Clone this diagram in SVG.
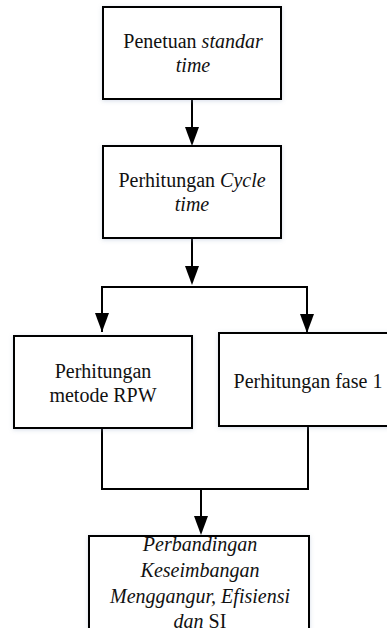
<svg xmlns="http://www.w3.org/2000/svg" width="387" height="628" viewBox="0 0 387 628">
<defs>
<style>
.box{fill:#fff;stroke:#000;stroke-width:2;filter:url(#sh)}
.t{font-size:20px;fill:#111;text-anchor:middle}
.i{font-style:italic}
.c{fill:none;stroke:#000;stroke-width:2}
</style>
<filter id="sh" x="-10%" y="-10%" width="120%" height="120%">
<feDropShadow dx="0" dy="1" stdDeviation="2" flood-color="#8aa0c0" flood-opacity="0.35"/>
</filter>
<marker id="ah" markerUnits="userSpaceOnUse" markerWidth="20" markerHeight="16" refX="0" refY="7" orient="auto" viewBox="0 0 20 14">
<path d="M0,0 L19,7 L0,14 z" fill="#000"/>
</marker>
</defs>
<rect width="387" height="628" fill="#fff"/>
<g id="connectors">
<path class="c" d="M192,99 V127" marker-end="url(#ah)"/>
<path class="c" d="M192,238 V266" marker-end="url(#ah)"/>
<path class="c" d="M102,332 V287 H307 V332"/>
<path class="c" d="M102,287 V313" marker-end="url(#ah)"/>
<path class="c" d="M307,287 V314" marker-end="url(#ah)"/>
<path class="c" d="M102,428 V489 H308 V426"/>
<path class="c" d="M201,489 V516" marker-end="url(#ah)"/>
</g>
<g font-family="'Liberation Serif', 'Times New Roman', serif">
<g id="n1">
<rect class="box" x="103" y="7" width="178" height="92"/>
<text class="t" x="193" y="48">Penetuan <tspan class="i">standar</tspan></text>
<text class="t i" x="193" y="72">time</text>
</g>
<g id="n2">
<rect class="box" x="103" y="146" width="178" height="92"/>
<text class="t" x="192" y="187">Perhitungan <tspan class="i">Cycle</tspan></text>
<text class="t i" x="192" y="211">time</text>
</g>
<g id="n3">
<rect class="box" x="14" y="336" width="178" height="92"/>
<text class="t" x="103" y="378">Perhitungan</text>
<text class="t" x="103" y="402">metode RPW</text>
</g>
<g id="n4">
<rect class="box" x="219" y="333" width="178" height="93"/>
<text class="t" x="308" y="388">Perhitungan fase 1</text>
</g>
<g id="n5">
<rect class="box" x="89" y="536" width="220" height="110"/>
<text class="t i" x="200" y="551">Perbandingan</text>
<text class="t i" x="200" y="577">Keseimbangan</text>
<text class="t i" x="200" y="603">Menggangur, Efisiensi</text>
<text class="t" x="200" y="628"><tspan class="i">dan</tspan> SI</text>
</g>
</g>
</svg>
